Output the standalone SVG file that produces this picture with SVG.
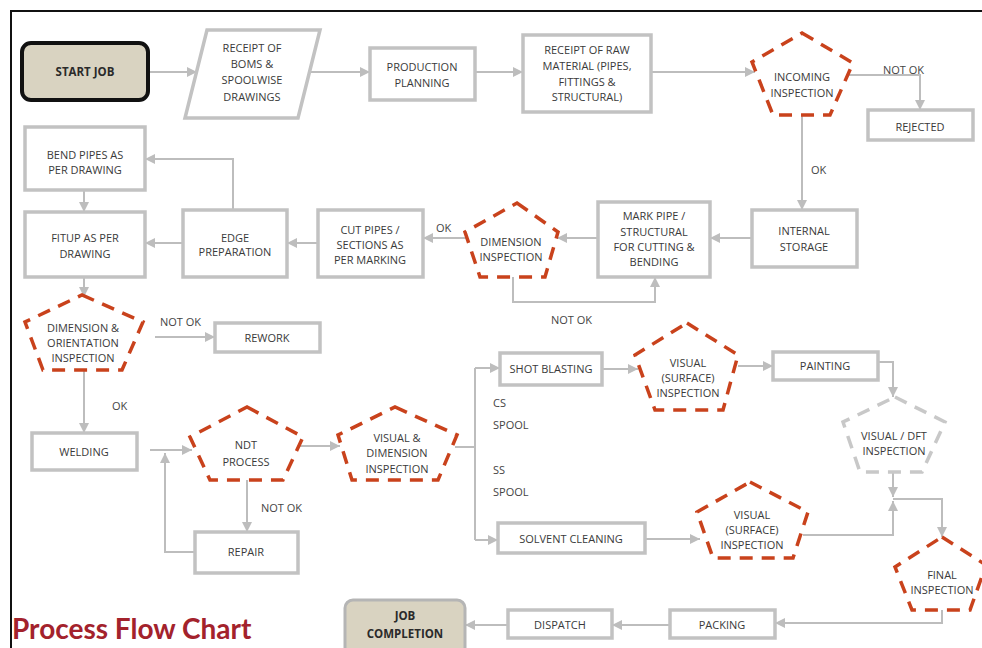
<svg xmlns="http://www.w3.org/2000/svg" width="982" height="648" viewBox="0 0 982 648">
<style>
.box{fill:#fff;stroke:#c2c2c2;stroke-width:3.5}
.pent{fill:#fff;stroke:#c9421c;stroke-width:3.5;stroke-dasharray:13 9}
.pentg{fill:#fff;stroke:#c8c8c8;stroke-width:3.5;stroke-dasharray:13 9}
.term{fill:#d9d3c1}
.t{font-family:"Open Sans","Noto Sans",sans-serif;font-size:11px;fill:#3a3a3a;text-anchor:middle}
.tb{font-family:"Open Sans","Noto Sans",sans-serif;font-size:11.5px;font-weight:bold;fill:#2a2a2a;text-anchor:middle}
.lbl{font-family:"Open Sans","Noto Sans",sans-serif;font-size:11px;fill:#444}
.c{fill:none;stroke:#bdbdbd;stroke-width:2}
</style>
<defs>
<marker id="ah" markerUnits="userSpaceOnUse" markerWidth="11" markerHeight="11" refX="10" refY="5" orient="auto"><path d="M0,0 L10,5 L0,10 z" fill="#bdbdbd"/></marker>
</defs>
<rect x="0" y="0" width="982" height="648" fill="#fff"/>
<path d="M11,648 V11 H982" fill="none" stroke="#111" stroke-width="2"/>

<g id="connectors">
<path class="c" d="M148,72 H197" marker-end="url(#ah)"/>
<path class="c" d="M309,72 H370" marker-end="url(#ah)"/>
<path class="c" d="M475,72 H523" marker-end="url(#ah)"/>
<path class="c" d="M651,72 H755" marker-end="url(#ah)"/>
<path class="c" d="M847,75 H920 V110" marker-end="url(#ah)"/>
<path class="c" d="M802,115 V210" marker-end="url(#ah)"/>
<path class="c" d="M752,238 H710" marker-end="url(#ah)"/>
<path class="c" d="M598,238 H557" marker-end="url(#ah)"/>
<path class="c" d="M467,238 H423" marker-end="url(#ah)"/>
<path class="c" d="M513,277 V302 H655 V277" marker-end="url(#ah)"/>
<path class="c" d="M318,243 H287" marker-end="url(#ah)"/>
<path class="c" d="M233,210 V159 H145" marker-end="url(#ah)"/>
<path class="c" d="M84,190 V212" marker-end="url(#ah)"/>
<path class="c" d="M183,243 H145" marker-end="url(#ah)"/>
<path class="c" d="M84,277 V297" marker-end="url(#ah)"/>
<path class="c" d="M155,337 H215" marker-end="url(#ah)"/>
<path class="c" d="M84,370 V433" marker-end="url(#ah)"/>
<path class="c" d="M150,450 H192" marker-end="url(#ah)"/>
<path class="c" d="M195,552 H165 V453" marker-end="url(#ah)"/>
<path class="c" d="M247,480 V532" marker-end="url(#ah)"/>
<path class="c" d="M300,446 H340" marker-end="url(#ah)"/>
<path class="c" d="M455,447 H475 M475,368 V540"/>
<path class="c" d="M475,368 H500" marker-end="url(#ah)"/>
<path class="c" d="M475,540 H498" marker-end="url(#ah)"/>
<path class="c" d="M602,369 H638" marker-end="url(#ah)"/>
<path class="c" d="M738,366 H773" marker-end="url(#ah)"/>
<path class="c" d="M878,362 H893 V397" marker-end="url(#ah)"/>
<path class="c" d="M893,472 V497" marker-end="url(#ah)"/>
<path class="c" d="M803,535 H893 V501" marker-end="url(#ah)"/>
<path class="c" d="M893,499 H942 V537" marker-end="url(#ah)"/>
<path class="c" d="M645,539 H700" marker-end="url(#ah)"/>
<path class="c" d="M942,610 V623 H775" marker-end="url(#ah)"/>
<path class="c" d="M670,625 H612" marker-end="url(#ah)"/>
<path class="c" d="M508,625 H465" marker-end="url(#ah)"/>
</g>

<g id="labels">
<text class="lbl" x="883" y="74">NOT OK</text>
<text class="lbl" x="811" y="174">OK</text>
<text class="lbl" x="436" y="232">OK</text>
<text class="lbl" x="551" y="324">NOT OK</text>
<text class="lbl" x="160" y="326">NOT OK</text>
<text class="lbl" x="112" y="410">OK</text>
<text class="lbl" x="261" y="512">NOT OK</text>
<text class="lbl" x="493" y="407">CS</text>
<text class="lbl" x="493" y="429">SPOOL</text>
<text class="lbl" x="493" y="474">SS</text>
<text class="lbl" x="493" y="496">SPOOL</text>
</g>

<g id="start"><rect x="22" y="43" width="126" height="57" rx="9" class="term" stroke="#111" stroke-width="4"/><text class="tb" x="85" y="76">START JOB</text></g>
<g id="boms"><polygon class="box" points="207,30 320,30 298,118 185,118"/><text class="t" x="252" y="52">RECEIPT OF</text><text class="t" x="252" y="68">BOMS &amp;</text><text class="t" x="252" y="84">SPOOLWISE</text><text class="t" x="252" y="101">DRAWINGS</text></g>
<g id="planning"><rect class="box" x="370" y="48" width="105" height="52"/><text class="t" x="422" y="71">PRODUCTION</text><text class="t" x="422" y="87">PLANNING</text></g>
<g id="raw"><rect class="box" x="523" y="35" width="128" height="77"/><text class="t" x="587" y="54">RECEIPT OF RAW</text><text class="t" x="587" y="70">MATERIAL (PIPES,</text><text class="t" x="587" y="86">FITTINGS &amp;</text><text class="t" x="587" y="101">STRUCTURAL)</text></g>
<g id="incoming"><polygon class="pent" points="802,33 853,63 830,115 773,115 752,62"/><text class="t" x="802" y="81">INCOMING</text><text class="t" x="802" y="97">INSPECTION</text></g>
<g id="rejected"><rect class="box" x="868" y="110" width="105" height="30"/><text class="t" x="920" y="131">REJECTED</text></g>
<g id="storage"><rect class="box" x="752" y="210" width="105" height="57"/><text class="t" x="804" y="235">INTERNAL</text><text class="t" x="804" y="251">STORAGE</text></g>
<g id="mark"><rect class="box" x="598" y="202" width="112" height="75"/><text class="t" x="654" y="220">MARK PIPE /</text><text class="t" x="654" y="236">STRUCTURAL</text><text class="t" x="654" y="251">FOR CUTTING &amp;</text><text class="t" x="654" y="266">BENDING</text></g>
<g id="dimension"><polygon class="pent" points="517,203 558,232 545,277 480,277 465,232"/><text class="t" x="511" y="246">DIMENSION</text><text class="t" x="511" y="261">INSPECTION</text></g>
<g id="cut"><rect class="box" x="318" y="210" width="105" height="67"/><text class="t" x="370" y="234">CUT PIPES /</text><text class="t" x="370" y="249">SECTIONS AS</text><text class="t" x="370" y="264">PER MARKING</text></g>
<g id="edge"><rect class="box" x="183" y="210" width="104" height="67"/><text class="t" x="235" y="242">EDGE</text><text class="t" x="235" y="256">PREPARATION</text></g>
<g id="bend"><rect class="box" x="25" y="127" width="120" height="63"/><text class="t" x="85" y="159">BEND PIPES AS</text><text class="t" x="85" y="174">PER DRAWING</text></g>
<g id="fitup"><rect class="box" x="25" y="212" width="120" height="65"/><text class="t" x="85" y="242">FITUP AS PER</text><text class="t" x="85" y="258">DRAWING</text></g>
<g id="dimorient"><polygon class="pent" points="82,295 143,322 122,370 43,370 25,322"/><text class="t" x="83" y="332">DIMENSION &amp;</text><text class="t" x="83" y="347">ORIENTATION</text><text class="t" x="83" y="362">INSPECTION</text></g>
<g id="rework"><rect class="box" x="215" y="323" width="105" height="29"/><text class="t" x="267" y="342">REWORK</text></g>
<g id="welding"><rect class="box" x="32" y="433" width="105" height="37"/><text class="t" x="84" y="456">WELDING</text></g>
<g id="ndt"><polygon class="pent" points="247,407 303,437 283,480 210,480 190,437"/><text class="t" x="246" y="449">NDT</text><text class="t" x="246" y="466">PROCESS</text></g>
<g id="repair"><rect class="box" x="195" y="532" width="103" height="41"/><text class="t" x="246" y="556">REPAIR</text></g>
<g id="visdim"><polygon class="pent" points="395,407 457,435 438,480 352,480 338,435"/><text class="t" x="397" y="442">VISUAL &amp;</text><text class="t" x="397" y="457">DIMENSION</text><text class="t" x="397" y="473">INSPECTION</text></g>
<g id="shot"><rect class="box" x="500" y="353" width="102" height="32"/><text class="t" x="551" y="373">SHOT BLASTING</text></g>
<g id="solvent"><rect class="box" x="498" y="523" width="147" height="30"/><text class="t" x="571" y="543">SOLVENT CLEANING</text></g>
<g id="vissurf1"><polygon class="pent" points="687,323 738,355 723,410 655,410 635,355"/><text class="t" x="688" y="367">VISUAL</text><text class="t" x="688" y="382">(SURFACE)</text><text class="t" x="688" y="397">INSPECTION</text></g>
<g id="painting"><rect class="box" x="773" y="352" width="105" height="28"/><text class="t" x="825" y="370">PAINTING</text></g>
<g id="dft"><polygon class="pentg" points="895,397 945,422 922,472 860,472 843,422"/><text class="t" x="894" y="440">VISUAL / DFT</text><text class="t" x="894" y="455">INSPECTION</text></g>
<g id="vissurf2"><polygon class="pent" points="750,482 808,512 793,558 713,558 697,512"/><text class="t" x="752" y="519">VISUAL</text><text class="t" x="752" y="534">(SURFACE)</text><text class="t" x="752" y="549">INSPECTION</text></g>
<g id="final"><polygon class="pent" points="942,537 986,565 970,610 912,610 895,567"/><text class="t" x="942" y="579">FINAL</text><text class="t" x="942" y="594">INSPECTION</text></g>
<g id="packing"><rect class="box" x="670" y="610" width="105" height="28"/><text class="t" x="722" y="629">PACKING</text></g>
<g id="dispatch"><rect class="box" x="508" y="610" width="104" height="28"/><text class="t" x="560" y="629">DISPATCH</text></g>
<g id="jobcompletion"><rect x="345" y="600" width="120" height="56" rx="8" class="term" stroke="#b5b5b5" stroke-width="3"/><text class="tb" x="405" y="620">JOB</text><text class="tb" x="405" y="638">COMPLETION</text></g>
<g id="title"><text x="12" y="639" font-family="Lato,'Open Sans',sans-serif" font-weight="bold" font-size="28" fill="#a3222c">Process Flow Chart</text></g>
</svg>
